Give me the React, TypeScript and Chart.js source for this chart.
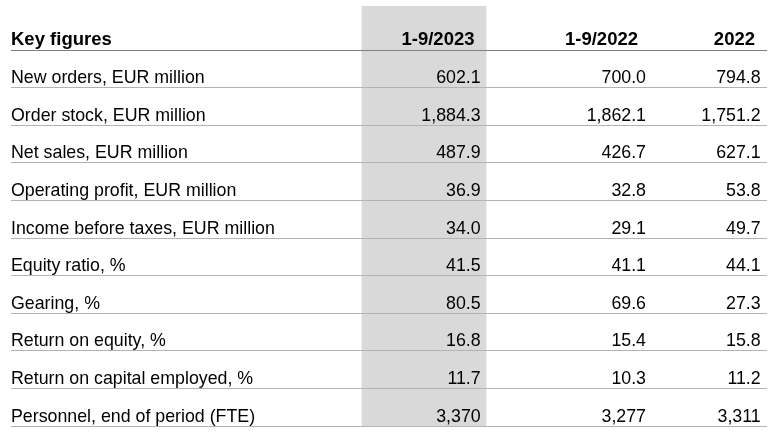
import React, { useEffect, useRef } from "react";
import { Chart, registerables } from "chart.js";

Chart.register(...registerables);

// ---------- data ----------
const tableTitle = "Key figures";
const periods = ["1-9/2023", "1-9/2022", "2022"];
const rowLabels = [
  "New orders, EUR million",
  "Order stock, EUR million",
  "Net sales, EUR million",
  "Operating profit, EUR million",
  "Income before taxes, EUR million",
  "Equity ratio, %",
  "Gearing, %",
  "Return on equity, %",
  "Return on capital employed, %",
  "Personnel, end of period (FTE)",
];
const values_1_9_2023 = [602.1, 1884.3, 487.9, 36.9, 34.0, 41.5, 80.5, 16.8, 11.7, 3370];
const values_1_9_2022 = [700.0, 1862.1, 426.7, 32.8, 29.1, 41.1, 69.6, 15.4, 10.3, 3277];
const values_2022 = [794.8, 1751.2, 627.1, 53.8, 49.7, 44.1, 27.3, 15.8, 11.2, 3311];
const decimals = [1, 1, 1, 1, 1, 1, 1, 1, 1, 0];
const highlightedPeriod = 0;

// ---------- layout (styles / positions) ----------
const W = 784;
const H = 440;
const AREA_LEFT = 11;
const AREA_RIGHT = 767;
const AREA_TOP = 6;
const AREA_BOTTOM = 426;
const HEADER_UNITS = 44 / 37.5; // header row is taller than body rows
const Y_MIN = 1 - HEADER_UNITS;
const Y_MAX = rowLabels.length + 1;
const X_MAX = AREA_RIGHT - AREA_LEFT;
const LABEL_X = 0;
const VALUE_RIGHT = [469.7, 635, 749.7];
const HEADER_RIGHT = [463.5, 627, 744];
const BAND_CENTER = [413, 555, 690];
const BAND_WIDTH = 124;
const FONT_FAMILY = '"Liberation Sans", Arial, sans-serif';
const FONT_SIZE = 17.8;
const HEADER_FONT_SIZE = 18.5;
const BASELINE_GAP = 4.5;

const fmt = (v: number, d: number) =>
  v.toLocaleString("en-US", { minimumFractionDigits: d, maximumFractionDigits: d });

const tableTextPlugin = {
  id: "tableText",
  afterDraw(chart: any) {
    const { ctx, scales } = chart;
    const xs = scales.x;
    const ys = scales.y;
    ctx.save();
    ctx.fillStyle = "#000000";
    ctx.textBaseline = "alphabetic";
    // header
    ctx.font = `bold ${HEADER_FONT_SIZE}px ${FONT_FAMILY}`;
    const headerBase = ys.getPixelForValue(1) - BASELINE_GAP - 0.5;
    ctx.textAlign = "left";
    ctx.fillText(tableTitle, xs.getPixelForValue(LABEL_X), headerBase);
    ctx.textAlign = "right";
    periods.forEach((p, i) => {
      ctx.fillText(p, xs.getPixelForValue(HEADER_RIGHT[i]), headerBase);
    });
    // body
    ctx.font = `${FONT_SIZE}px ${FONT_FAMILY}`;
    const cols = [values_1_9_2023, values_1_9_2022, values_2022];
    rowLabels.forEach((label, r) => {
      const base = ys.getPixelForValue(r + 2) - BASELINE_GAP;
      ctx.textAlign = "left";
      ctx.fillText(label, xs.getPixelForValue(LABEL_X), base);
      ctx.textAlign = "right";
      cols.forEach((col, c) => {
        ctx.fillText(fmt(col[r], decimals[r]), xs.getPixelForValue(VALUE_RIGHT[c]), base);
      });
    });
    ctx.restore();
  },
};

export default function App() {
  const ref = useRef<HTMLCanvasElement | null>(null);

  useEffect(() => {
    if (!ref.current) return;
    const lineValues = Array.from({ length: rowLabels.length + 1 }, (_, i) => i + 1);
    const chart = new Chart(ref.current, {
      type: "bar",
      data: {
        datasets: [
          {
            label: "highlight",
            data: [{ x: BAND_CENTER[highlightedPeriod], y: [Y_MIN, Y_MAX] }] as any,
            backgroundColor: "#d9d9d9",
            borderWidth: 0,
            barThickness: BAND_WIDTH,
            grouped: true,
          } as any,
        ],
      },
      options: {
        animation: false,
        responsive: false,
        events: [],
        layout: {
          padding: {
            left: AREA_LEFT,
            right: W - AREA_RIGHT,
            top: AREA_TOP,
            bottom: H - AREA_BOTTOM,
          },
        },
        plugins: {
          legend: { display: false },
          tooltip: { enabled: false },
        },
        scales: {
          x: {
            type: "linear",
            display: false,
            offset: false,
            grid: { offset: false },
            min: 0,
            max: X_MAX,
          },
          y: {
            type: "linear",
            reverse: true,
            min: Y_MIN,
            max: Y_MAX,
            afterBuildTicks: (scale: any) => {
              scale.ticks = lineValues.map((v) => ({ value: v }));
            },
            ticks: { display: false },
            border: { display: false },
            grid: {
              z: 1,
              drawTicks: false,
              lineWidth: 1,
              color: (c: any) => (c.tick && c.tick.value === 1 ? "#7f7f7f" : "#b3b3b3"),
            },
          },
        },
      } as any,
      plugins: [tableTextPlugin],
    });
    return () => chart.destroy();
  }, []);

  return (
    <div style={{ position: "fixed", left: 0, top: 0, width: W, height: H, background: "#ffffff" }}>
      <canvas ref={ref} width={W} height={H} style={{ display: "block", width: W, height: H }} />
    </div>
  );
}
